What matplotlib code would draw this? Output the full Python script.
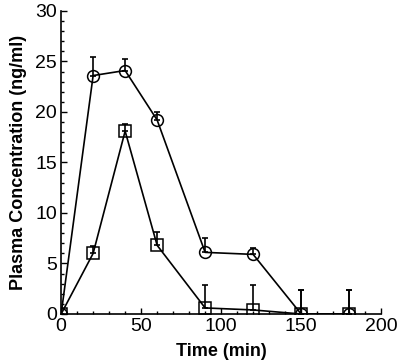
import matplotlib
matplotlib.use("Agg")
import matplotlib.pyplot as plt
from matplotlib.ticker import MultipleLocator

time = [0, 20, 40, 60, 90, 120, 150, 180]
circle_vals = [0, 23.6, 24.1, 19.2, 6.1, 5.9, 0, 0]
circle_err = [0, 1.8, 1.1, 0.8, 1.45, 0.65, 2.4, 2.4]
square_vals = [0, 6.0, 18.1, 6.8, 0.6, 0.4, 0, 0]
square_err = [0, 0.75, 0.7, 1.35, 2.3, 2.5, 2.4, 2.4]

plt.rcParams['font.family'] = ['Liberation Sans', 'DejaVu Sans']

fig = plt.figure(figsize=(3.97, 3.63), dpi=100)
ax = fig.add_axes([0.154, 0.135, 0.806, 0.835])

for vals, err, mk in [(circle_vals, circle_err, 'o'), (square_vals, square_err, 's')]:
    ax.errorbar(time, vals, yerr=[[0]*len(err), err], fmt='none', ecolor='black',
                elinewidth=1.2, capsize=2.2, capthick=1.2)
    ax.plot(time, vals, color='black', lw=1.2, marker=mk, markersize=8.5,
            markerfacecolor='none', markeredgecolor='black', markeredgewidth=1.1)

ax.set_xlim(0, 200)
ax.set_ylim(0, 30)
ax.xaxis.set_major_locator(MultipleLocator(50))
ax.xaxis.set_minor_locator(MultipleLocator(10))
ax.yaxis.set_major_locator(MultipleLocator(5))
ax.yaxis.set_minor_locator(MultipleLocator(1))
ax.tick_params(which='both', direction='in', width=1, labelsize=14, pad=3)
ax.tick_params(which='major', length=4)
ax.tick_params(which='minor', length=2.5)
ax.spines['top'].set_visible(False)
ax.spines['right'].set_visible(False)
for s in ['left', 'bottom']:
    ax.spines[s].set_linewidth(1.2)
ax.set_xlabel('Time (min)', fontsize=13, fontweight='bold', labelpad=6)
ax.set_ylabel('Plasma Concentration (ng/ml)', fontsize=13, fontweight='bold', labelpad=6)

fig.savefig('out.png', dpi=100)
